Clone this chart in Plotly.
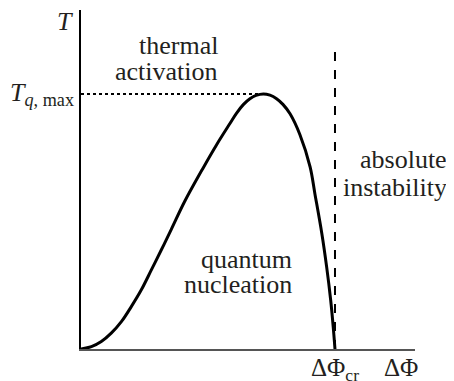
import plotly.graph_objects as go

# Curve T(ΔΦ) normalised: x = ΔΦ/ΔΦ_cr, y = T/T_q,max
dphi = [0.0, 0.041, 0.080, 0.119, 0.159, 0.198, 0.237, 0.277, 0.316, 0.356,
        0.408, 0.481, 0.534, 0.587, 0.612, 0.639, 0.665, 0.689, 0.718, 0.744,
        0.770, 0.795, 0.823, 0.862, 0.902, 0.921, 0.948, 0.967, 0.983, 0.993, 1.0]
temp = [0.0, 0.009, 0.029, 0.062, 0.107, 0.166, 0.231, 0.310, 0.388, 0.470,
        0.578, 0.710, 0.801, 0.885, 0.924, 0.958, 0.981, 0.994, 1.0, 0.995,
        0.981, 0.959, 0.922, 0.840, 0.714, 0.608, 0.454, 0.323, 0.192, 0.087, 0.0]

dphi_cr = 1.0
t_qmax = 1.0
t_qmax_x = 0.718
dash_top = 1.192

FONT = "Liberation Serif"
TC = "#231f20"

fig = go.Figure()
fig.add_trace(go.Scatter(x=dphi, y=temp, mode="lines",
                         line=dict(color="black", width=3, shape="spline", smoothing=1.0),
                         hoverinfo="skip", showlegend=False))
fig.add_trace(go.Scatter(x=[dphi_cr, dphi_cr], y=[0, dash_top], mode="lines",
                         line=dict(color="black", width=2, dash="dash"),
                         hoverinfo="skip", showlegend=False))
fig.add_trace(go.Scatter(x=[0, t_qmax_x], y=[t_qmax, t_qmax], mode="lines",
                         line=dict(color="black", width=2, dash="dot"),
                         hoverinfo="skip", showlegend=False))

ann = []
def A(text, x, y, xref="x", yref="y", xanchor="center", yanchor="middle", align="center", size=26):
    ann.append(dict(text=text, x=x, y=y, xref=xref, yref=yref, xanchor=xanchor,
                    yanchor=yanchor, align=align, showarrow=False,
                    font=dict(family=FONT, size=size, color=TC)))

# region labels, one line each (tight leading like the reference), right-aligned
A("thermal", 0.416, 1.188, xref="paper", xanchor="right")
A("activation", 0.416, 1.086, xref="paper", xanchor="right")
A("quantum", 0.638, 0.349, xref="paper", xanchor="right")
A("nucleation", 0.638, 0.251, xref="paper", xanchor="right")
A("absolute", 1.102, 0.741, xref="paper", xanchor="right")
A("instability", 1.102, 0.635, xref="paper", xanchor="right")

A("<i>T</i>", -0.018, 0.965, xref="paper", yref="paper", xanchor="right")
A("<i>T</i><sub><i>q</i>, max</sub>", -0.015, 1.0, xref="paper", xanchor="right")
A("ΔΦ<sub>cr</sub>", 1.0, -0.06, yref="paper", size=25)
A("ΔΦ", 1.26, -0.055, yref="paper", size=25)

# body has an 8px margin in the page, so the figure is offset by 8px
fig.update_layout(
    width=446, height=373,
    margin=dict(l=73, r=39, t=2, b=32),
    paper_bgcolor="white", plot_bgcolor="white",
    font=dict(family=FONT, color=TC),
    annotations=ann,
    xaxis=dict(range=[0, 1.315], showgrid=False, zeroline=False, showticklabels=False,
               ticks="", showline=True, linecolor="#555555", linewidth=1.5, fixedrange=True),
    yaxis=dict(range=[0, 1.329], showgrid=False, zeroline=False, showticklabels=False,
               ticks="", showline=True, linecolor="black", linewidth=1.5, fixedrange=True),
)
fig.write_html("out.html")
